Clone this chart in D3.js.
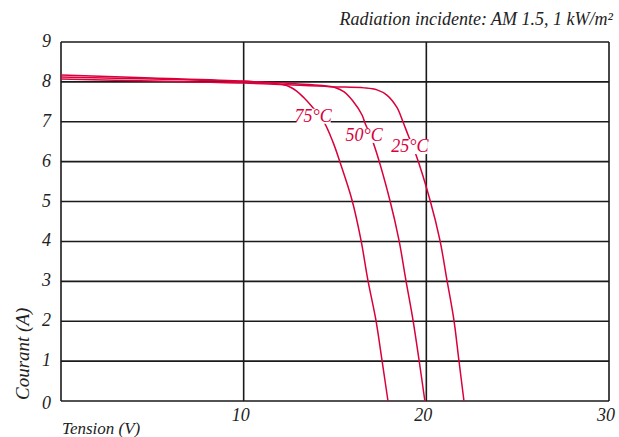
<!DOCTYPE html>
<html><head><meta charset="utf-8">
<script src="https://cdn.jsdelivr.net/npm/d3@7"></script>
<style>
html,body{margin:0;padding:0;background:#fff;}
</style></head>
<body>
<svg id="chart" width="619" height="437"></svg>
<script>
const xTicks = [10, 20, 30];
const yTicks = [0, 1, 2, 3, 4, 5, 6, 7, 8, 9];
const seriesNames = ["75°C", "50°C", "25°C"];
// [tension V, courant A]
const curve75 = [[0,8.17],[5,8.10],[10,8.02],[11.2,7.98],[11.9,7.95],[12.45,7.89],[12.9,7.77],[13.3,7.6],[13.7,7.4],[14.34,7.04],[14.89,6.49],[15.27,5.99],[15.93,5.04],[16.42,4.04],[16.8,3.03],[17.24,2.03],[17.57,1.03],[17.9,0]];
const curve50 = [[0,8.12],[5,8.07],[10,8.01],[13.0,7.95],[14.3,7.91],[15.0,7.86],[15.5,7.75],[15.98,7.52],[16.48,7.17],[16.64,6.97],[17.08,6.49],[18.0,5.04],[18.5,4.04],[18.88,3.03],[19.27,2.03],[19.6,1.03],[19.92,0]];
const curve25 = [[0,8.07],[5,8.02],[10,7.97],[14.72,7.88],[16.6,7.85],[17.3,7.8],[17.84,7.67],[18.39,7.36],[18.72,7.0],[19.0,6.67],[19.38,6.24],[20.2,5.04],[20.74,4.04],[21.13,3.03],[21.51,2.03],[21.78,1.03],[22.06,0]];
const curves = [curve75, curve50, curve25];
// label anchor points (V, A) for each curve label
const labelPos = [[13.8,7.0],[16.6,6.52],[19.1,6.24]];

const W = 619, H = 437;
const m = {left:61, right:10, top:42, bottom:36};
const FONT = "'Liberation Serif','Times New Roman','DejaVu Serif',serif";
const svg = d3.select("#chart");
const x = d3.scaleLinear().domain([0,30]).range([m.left, W-m.right]);
const y = d3.scaleLinear().domain([0,9]).range([H-m.bottom, m.top]);
const red = "#d9003b", ink = "#1a1a1a";

svg.append("g").selectAll("line").data(yTicks).join("line")
  .attr("x1", x(0)).attr("x2", x(30))
  .attr("y1", d=>y(d)).attr("y2", d=>y(d))
  .attr("stroke", ink).attr("stroke-width", 1.6);
svg.append("g").selectAll("line").data([0].concat(xTicks)).join("line")
  .attr("x1", d=>x(d)).attr("x2", d=>x(d))
  .attr("y1", y(0)).attr("y2", y(9))
  .attr("stroke", ink).attr("stroke-width", 1.6);

const line = d3.line().x(d=>x(d[0])).y(d=>y(d[1])).curve(d3.curveCatmullRom.alpha(0.5));
svg.append("g").selectAll("path").data(curves).join("path")
  .attr("d", line).attr("fill","none").attr("stroke", red).attr("stroke-width",1.5);

function txt(sel){ return sel.attr("font-family", FONT).attr("font-style","italic").attr("fill","#222"); }

const lg = svg.append("g");
seriesNames.forEach((name,i)=>{
  const t = txt(lg.append("text")).text(name)
    .attr("x", x(labelPos[i][0])).attr("y", y(labelPos[i][1]))
    .attr("text-anchor","middle").attr("font-size",18)
    .attr("fill", red);
  const b = t.node().getBBox();
  lg.insert("rect","text").attr("x",b.x+2).attr("y",b.y+3).attr("width",b.width-4).attr("height",b.height-5).attr("fill","#fff");
});

txt(svg.append("g").selectAll("text").data(yTicks).join("text"))
  .attr("x", 51).attr("y", d=>y(d)+ (d===0?8:5)).attr("text-anchor","end")
  .attr("font-size",18).text(d=>d);
txt(svg.append("g").selectAll("text").data(xTicks).join("text"))
  .attr("x", d=>x(d)-3).attr("y", 421).attr("text-anchor","middle")
  .attr("font-size",18).text(d=>d);

txt(svg.append("text")).attr("x", 62).attr("y", 434).attr("font-size",17).text("Tension (V)");
txt(svg.append("text")).attr("transform","translate(29,400) rotate(-90)").attr("font-size",19).text("Courant (A)");
txt(svg.append("text")).attr("x", 613).attr("y", 25).attr("text-anchor","end").attr("font-size",18)
  .text("Radiation incidente: AM 1.5, 1 kW/m²");
</script>
</body></html>
